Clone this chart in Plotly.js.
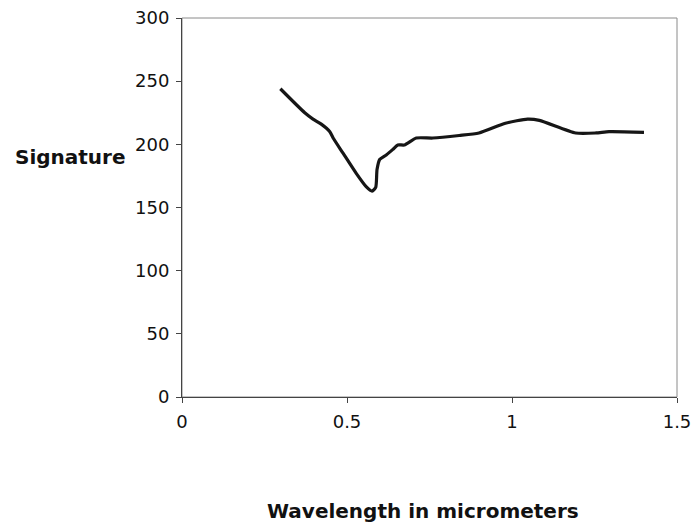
<!DOCTYPE html>
<html>
<head>
<meta charset="utf-8">
<script src="https://cdn.plot.ly/plotly-3.0.1.min.js"></script>
<style>html,body{margin:0;padding:0;background:#fff;}#chart{width:697px;height:529px;}</style>
</head>
<body>
<div id="chart"></div>
<script>
const wavelength = [0.298, 0.372, 0.397, 0.422, 0.448, 0.458, 0.488, 0.528, 0.558, 0.576, 0.587, 0.591, 0.599, 0.619, 0.639, 0.654, 0.674, 0.710, 0.760, 0.840, 0.900, 0.980, 1.047, 1.083, 1.193, 1.254, 1.294, 1.400];
const signature  = [244, 225, 220, 216, 210, 205, 193, 177, 166.5, 163, 166, 180, 188, 191.6, 196, 199.5, 199.5, 205, 205, 207, 209, 216.7, 220, 219, 209, 209, 210, 209.5];
const xTicks = [0, 0.5, 1, 1.5];
const yTicks = [0, 50, 100, 150, 200, 250, 300];
const xTitle = "Wavelength in micrometers";
const yTitle = "Signature";

const font = "DejaVu Sans, Arial, sans-serif";

const trace = {
  x: wavelength, y: signature, type: "scatter", mode: "lines",
  line: {color: "#161616", width: 3.2, shape: "spline", smoothing: 0.6},
  hoverinfo: "skip"
};

const layout = {
  width: 697, height: 529,
  margin: {l: 182, r: 20, t: 18, b: 132},
  paper_bgcolor: "#ffffff", plot_bgcolor: "#ffffff",
  showlegend: false,
  xaxis: {
    range: [0, 1.5], tickvals: xTicks, ticktext: xTicks.map(String),
    showgrid: false, zeroline: false,
    showline: true, linecolor: "#444", linewidth: 1,
    ticks: "outside", ticklen: 5, tickcolor: "#444", ticklabelstandoff: 3,
    tickfont: {family: font, size: 18, color: "#111"},
    fixedrange: true
  },
  yaxis: {
    range: [0, 300], tickvals: yTicks, ticktext: yTicks.map(String),
    showgrid: false, zeroline: false,
    showline: true, linecolor: "#444", linewidth: 1,
    ticks: "outside", ticklen: 5, tickcolor: "#444", ticklabelstandoff: 3,
    tickfont: {family: font, size: 18, color: "#111"},
    fixedrange: true
  },
  shapes: [{
    type: "rect", xref: "paper", yref: "paper", x0: 0, x1: 1, y0: 0, y1: 1,
    line: {color: "#8a8a8a", width: 1}, layer: "below"
  }],
  annotations: [
    {text: "<b>" + yTitle + "</b>", xref: "paper", yref: "paper", x: -0.11, y: 0.633,
     xanchor: "right", yanchor: "middle", showarrow: false,
     font: {family: font, size: 20, color: "#111"}},
    {text: "<b>" + xTitle + "</b>", xref: "paper", yref: "paper", x: 0.486, y: -0.30,
     xanchor: "center", yanchor: "middle", showarrow: false,
     font: {family: font, size: 20, color: "#111"}}
  ]
};

Plotly.newPlot("chart", [trace], layout, {displayModeBar: false, staticPlot: true});
</script>
</body>
</html>
